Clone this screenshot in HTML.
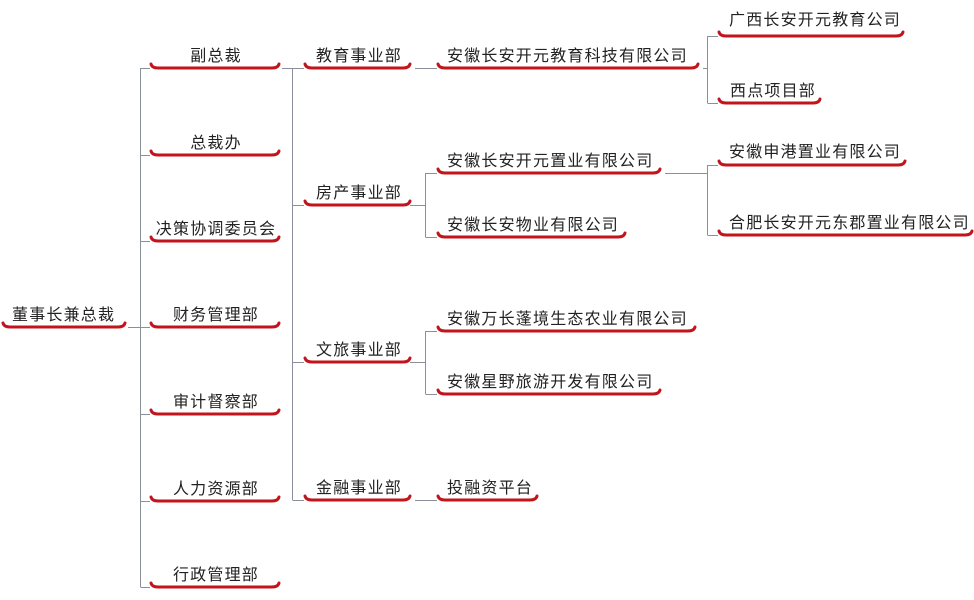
<!DOCTYPE html>
<html><head><meta charset="utf-8"><style>
html,body{margin:0;padding:0;background:#fff;}
svg{display:block;}
text{font-family:"Liberation Sans","Noto Sans CJK SC",sans-serif;font-size:16px;letter-spacing:1.2px;fill:#222;}
.u{fill:none;stroke:#c0151d;stroke-width:3;stroke-linecap:round;}
.l{fill:none;stroke:#8a8f99;stroke-width:1;}
</style></head><body>
<svg width="974" height="600" viewBox="0 0 974 600">
<g class="l">
<path d="M128 327.5H140.5M140.5 68V587"/>
<path d="M140.5 68.5H150M140.5 155.5H150M140.5 241.5H150M140.5 327.5H150M140.5 414.5H150M140.5 501.5H150M140.5 587.5H150"/>
<path d="M282 68.5H292.5M292.5 68V500M292.5 205.5H304M292.5 362.5H304M292.5 500.5H304M292.5 68.5H304"/>
<path d="M415 68.5H437M410 205.5H425.5M425.5 173V237M425.5 173.5H437M425.5 237.5H437"/>
<path d="M410 362.5H425.5M425.5 331V394M425.5 331.5H437M425.5 394.5H437M415 500.5H437"/>
<path d="M703 68.5H707.5M707.5 36V103M707.5 36.5H718M707.5 103.5H718"/>
<path d="M665 173.5H707.5M707.5 165V235M707.5 165.5H718M707.5 235.5H718"/>
</g>
<g class="u">
<path d="M3 323Q4 327 10 327H118Q124 327 125 323"/>
<path d="M151 64Q152 68 158 68H272Q278 68 279 64"/>
<path d="M151 151Q152 155 158 155H272Q278 155 279 151"/>
<path d="M151 237Q152 241 158 241H272Q278 241 279 237"/>
<path d="M151 323Q152 327 158 327H272Q278 327 279 323"/>
<path d="M151 410Q152 414 158 414H272Q278 414 279 410"/>
<path d="M151 497Q152 501 158 501H272Q278 501 279 497"/>
<path d="M151 583Q152 587 158 587H272Q278 587 279 583"/>
<path d="M305 64Q306 68 312 68H403Q409 68 410 64"/>
<path d="M305 201Q306 205 312 205H403Q409 205 410 201"/>
<path d="M305 358Q306 362 312 362H403Q409 362 410 358"/>
<path d="M305 496Q306 500 312 500H403Q409 500 410 496"/>
<path d="M438 64Q439 68 445 68H691Q697 68 698 64"/>
<path d="M438 169Q439 173 445 173H653Q659 173 660 169"/>
<path d="M438 233Q439 237 445 237H618Q624 237 625 233"/>
<path d="M438 327Q439 331 445 331H688Q694 331 695 327"/>
<path d="M438 390Q439 394 445 394H653Q659 394 660 390"/>
<path d="M438 496Q439 500 445 500H530Q536 500 537 496"/>
<path d="M719 32Q720 36 726 36H896Q902 36 903 32"/>
<path d="M719 99Q720 103 726 103H813Q819 103 820 99"/>
<path d="M719 161Q720 165 726 165H898Q904 165 905 161"/>
<path d="M719 231Q720 235 726 235H965Q971 235 972 231"/>
</g>
<text x="12" y="320">董事长兼总裁</text>
<text x="216" y="61" text-anchor="middle">副总裁</text>
<text x="216" y="148" text-anchor="middle">总裁办</text>
<text x="216" y="234" text-anchor="middle">决策协调委员会</text>
<text x="216" y="320" text-anchor="middle">财务管理部</text>
<text x="216" y="407" text-anchor="middle">审计督察部</text>
<text x="216" y="494" text-anchor="middle">人力资源部</text>
<text x="216" y="580" text-anchor="middle">行政管理部</text>
<text x="316" y="61">教育事业部</text>
<text x="316" y="198">房产事业部</text>
<text x="316" y="355">文旅事业部</text>
<text x="316" y="493">金融事业部</text>
<text x="447" y="61">安徽长安开元教育科技有限公司</text>
<text x="447" y="166">安徽长安开元置业有限公司</text>
<text x="447" y="230">安徽长安物业有限公司</text>
<text x="447" y="324">安徽万长蓬境生态农业有限公司</text>
<text x="447" y="387">安徽星野旅游开发有限公司</text>
<text x="447" y="493">投融资平台</text>
<text x="729" y="25">广西长安开元教育公司</text>
<text x="730" y="96">西点项目部</text>
<text x="729" y="157">安徽申港置业有限公司</text>
<text x="729" y="228">合肥长安开元东郡置业有限公司</text>
</svg>
</body></html>
